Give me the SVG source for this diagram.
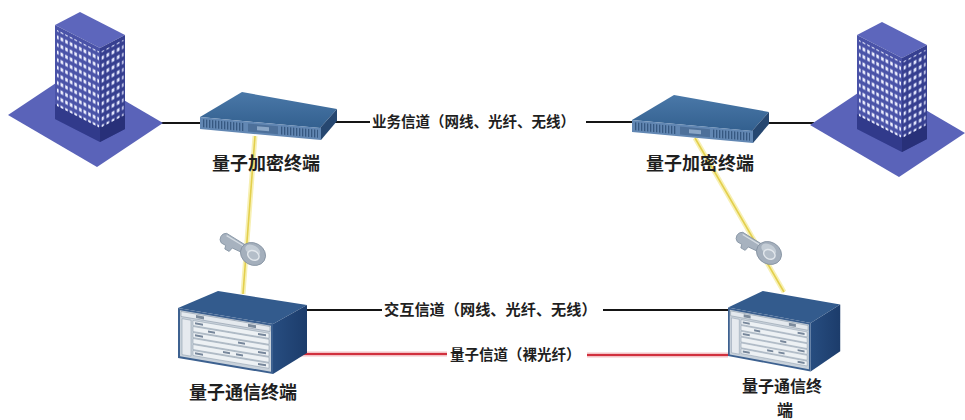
<svg xmlns="http://www.w3.org/2000/svg" width="965" height="420" viewBox="0 0 965 420">
  <style>
    .lbl { font-family: "Noto Sans CJK SC", "Noto Sans", sans-serif; font-weight: 700; fill: #1f1f1f; }
    .node-lbl { font-size: 18px; }
    .edge-lbl { font-size: 14.5px; }
    .wire { stroke: #151515; stroke-width: 2; fill: none; }
    .q-halo { stroke: #f3c2c6; stroke-width: 5; fill: none; }
    .q-core { stroke: #d1303d; stroke-width: 2.2; fill: none; }
    .y-halo { stroke: #f7f0b4; stroke-width: 5; fill: none; }
    .y-core { stroke: #e3cf4c; stroke-width: 1.6; fill: none; }
  </style>
  <defs>
    <!-- window grids, laid out in the skewed face coordinates -->
    <pattern id="winL" patternUnits="userSpaceOnUse" width="4.6" height="7.6">
      <rect x="1" y="1.6" width="2.6" height="3.6" fill="#eef0ff"/>
    </pattern>
    <pattern id="winR" patternUnits="userSpaceOnUse" width="5.2" height="7.6">
      <rect x="1.3" y="1.6" width="2.6" height="3.6" fill="#e6e9ff"/>
    </pattern>
    <pattern id="grille" patternUnits="userSpaceOnUse" width="3" height="12">
      <rect x="0" y="0" width="1.2" height="12" fill="#33557d"/>
    </pattern>
    <linearGradient id="routerTop" x1="0" y1="0" x2="0" y2="1">
      <stop offset="0" stop-color="#4a78a8"/>
      <stop offset="1" stop-color="#33608f"/>
    </linearGradient>
    <linearGradient id="chassisSide" x1="0" y1="0" x2="1" y2="0">
      <stop offset="0" stop-color="#274d80"/>
      <stop offset="1" stop-color="#1c3c6b"/>
    </linearGradient>

    <!-- office tower on its square plot -->
    <g id="tower">
      <polygon points="8,115 74,71 163,123 97,167" fill="#5a63b9"/>
      <polygon points="55,25 80,12 125,35 100,48" fill="#5d66bc"/>
      <g transform="translate(55,25) skewY(27.07)">
        <rect x="0" y="0" width="45" height="94" fill="#4a53a8"/>
        <rect x="0" y="79" width="45" height="15" fill="#313a8b"/>
        <rect x="2" y="4" width="42" height="76" fill="url(#winL)"/>
      </g>
      <g transform="translate(100,48) skewY(-27.47)">
        <rect x="0" y="0" width="25" height="94" fill="#363f90"/>
        <rect x="0" y="79" width="25" height="15" fill="#283079"/>
        <rect x="1.5" y="4" width="22" height="76" fill="url(#winR)"/>
      </g>
    </g>

    <!-- 1U encryption appliance -->
    <g id="router">
      <polygon points="200,117 242,92 337,109 320,128" fill="url(#routerTop)"/>
      <polygon points="320,128 337,109 337,121 321,140" fill="#264770"/>
      <g transform="translate(200,117) skewY(5.24)">
        <rect x="0" y="0" width="121" height="12" fill="#6287b3"/>
        <rect x="3" y="2" width="42" height="8" fill="url(#grille)"/>
        <rect x="48" y="2" width="30" height="8" fill="#4d709a"/>
        <rect x="57" y="4" width="12" height="4" fill="#8aa6c6"/>
        <rect x="81" y="2" width="37" height="8" fill="url(#grille)"/>
      </g>
    </g>

    <!-- rack chassis for quantum communication -->
    <g id="chassis">
      <polygon points="178,308 218,291 307,305 273,324" fill="#335b8d"/>
      <polygon points="273,324 307,305 307,353 273,374" fill="url(#chassisSide)"/>
      <g transform="translate(178,308) skewY(9.56)">
        <rect x="0" y="0" width="95" height="50" fill="#3d6190"/>
        <rect x="2" y="2" width="91" height="46" fill="#c9d2db"/>
        <rect x="3" y="3" width="89" height="5" fill="#e4e9ee" stroke="#8b99a8" stroke-width="0.6"/>
        <rect x="18" y="4" width="8" height="3" fill="#7c8b9c"/>
        <rect x="70" y="4" width="8" height="3" fill="#7c8b9c"/>
        <rect x="4" y="10" width="9" height="36" fill="#e6eaef" stroke="#95a3b2" stroke-width="0.6"/>
        <g fill="#edf1f4" stroke="#8a98a8" stroke-width="0.5">
          <rect x="15" y="10" width="76" height="5"/>
          <rect x="15" y="16" width="76" height="5"/>
          <rect x="15" y="22" width="76" height="5"/>
          <rect x="15" y="28" width="76" height="5"/>
          <rect x="15" y="34" width="76" height="5"/>
          <rect x="15" y="40" width="76" height="5"/>
        </g>
        <g fill="#76869a">
          <rect x="17" y="11.5" width="8" height="2"/>
          <rect x="80" y="11.5" width="8" height="2"/>
          <rect x="30" y="17.5" width="7" height="2"/>
          <rect x="17" y="23.5" width="8" height="2"/>
          <rect x="60" y="23.5" width="7" height="2"/>
          <rect x="80" y="29.5" width="8" height="2"/>
          <rect x="45" y="35.5" width="7" height="2"/>
          <rect x="58" y="35.5" width="7" height="2"/>
          <rect x="17" y="41.5" width="8" height="2"/>
          <rect x="80" y="41.5" width="8" height="2"/>
        </g>
      </g>
    </g>

    <!-- key icon, bow at the origin, blade pointing along -x -->
    <g id="key">
      <path d="M-8,-4 L-33,-5 A6,6 0 0 0 -33,6 L-28,6 L-27,9.5 L-22,9.5 L-21,5 L-8,4 Z" fill="#a7b2bf" stroke="#8593a3" stroke-width="0.8"/>
      <path d="M-12,-2.5 L-32,-3" stroke="#d6dde4" stroke-width="1.2" fill="none"/>
      <ellipse cx="0" cy="0" rx="13" ry="11" fill="#a4afbc" stroke="#8290a0" stroke-width="0.8"/>
      <ellipse cx="-2" cy="-3" rx="8" ry="5" fill="#c3ccd5"/>
      <ellipse cx="1" cy="1" rx="6" ry="4.5" fill="#b4bec9" stroke="#e2e7ec" stroke-width="1.4"/>
    </g>
  </defs>

  <rect width="965" height="420" fill="#ffffff"/>

  <!-- links between equipment -->
  <g id="connectors">
    <line class="wire" x1="160" y1="123" x2="202" y2="123"/>
    <line class="wire" x1="335" y1="122" x2="370" y2="122"/>
    <line class="wire" x1="586" y1="122" x2="634" y2="122"/>
    <line class="wire" x1="766" y1="123" x2="814" y2="123"/>
    <text class="lbl edge-lbl" x="372" y="127">业务信道（网线、光纤、无线）</text>

    <line class="y-halo" x1="255" y1="136" x2="243" y2="294"/>
    <line class="y-core" x1="255" y1="136" x2="243" y2="294"/>
    <line class="y-halo" x1="695" y1="138" x2="784" y2="292"/>
    <line class="y-core" x1="695" y1="138" x2="784" y2="292"/>

    <line class="wire" x1="305" y1="310" x2="382" y2="310"/>
    <line class="wire" x1="603" y1="310" x2="730" y2="310"/>
    <text class="lbl edge-lbl" x="384" y="315" style="font-size:15.2px">交互信道（网线、光纤、无线）</text>

    <line class="q-halo" x1="298" y1="354" x2="447" y2="354"/>
    <line class="q-core" x1="298" y1="354" x2="447" y2="354"/>
    <line class="q-halo" x1="587" y1="355" x2="728" y2="355"/>
    <line class="q-core" x1="587" y1="355" x2="728" y2="355"/>
    <text class="lbl edge-lbl" x="450" y="360">量子信道（裸光纤）</text>
  </g>

  <g id="site-left">
    <use href="#tower"/>
  </g>
  <g id="site-right">
    <use href="#tower" transform="translate(802,10)"/>
  </g>

  <g id="encryptor-left">
    <use href="#router"/>
    <text class="lbl node-lbl" x="266" y="170" text-anchor="middle">量子加密终端</text>
  </g>
  <g id="encryptor-right">
    <use href="#router" transform="translate(432,3)"/>
    <text class="lbl node-lbl" x="700" y="170" text-anchor="middle">量子加密终端</text>
  </g>

  <g id="key-left">
    <use href="#key" transform="translate(253,254) rotate(29.5)"/>
  </g>
  <g id="key-right">
    <use href="#key" transform="translate(769,253) rotate(29.7)"/>
  </g>

  <g id="qcomm-left">
    <use href="#chassis"/>
    <text class="lbl node-lbl" x="243" y="399" text-anchor="middle">量子通信终端</text>
  </g>
  <g id="qcomm-right">
    <use href="#chassis" transform="translate(728,291) scale(0.87,0.97) translate(-178,-291)"/>
    <text class="lbl node-lbl" text-anchor="middle" style="font-size:16px"><tspan x="782" y="392">量子通信终</tspan><tspan x="785" y="416">端</tspan></text>
  </g>
</svg>
